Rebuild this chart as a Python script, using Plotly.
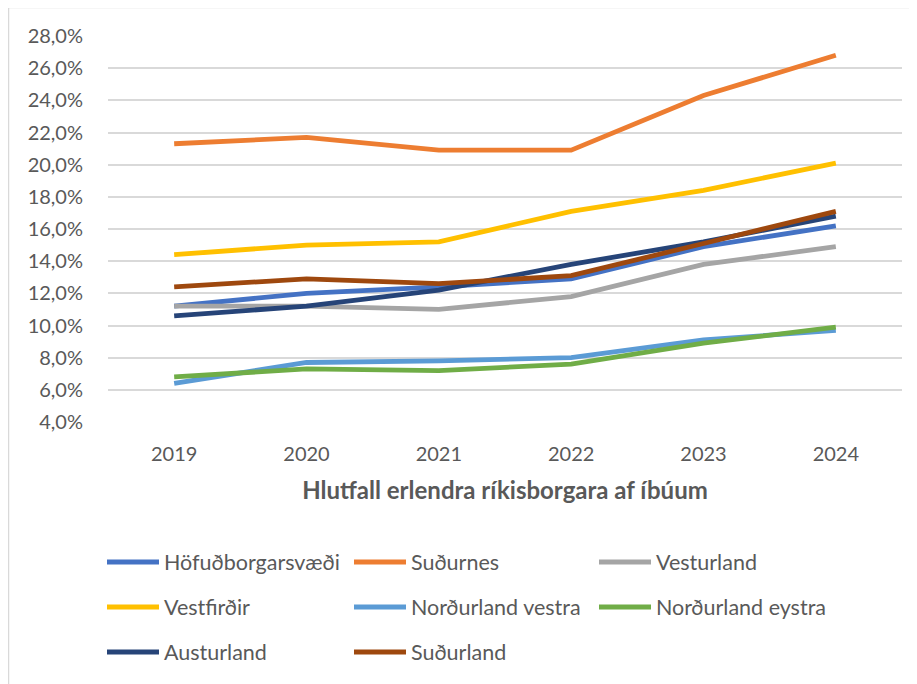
import plotly.graph_objects as go

years = ["2019", "2020", "2021", "2022", "2023", "2024"]

hofudborgarsvaedi = [11.2, 12.0, 12.4, 12.9, 14.9, 16.2]
sudurnes = [21.3, 21.7, 20.9, 20.9, 24.3, 26.8]
vesturland = [11.2, 11.2, 11.0, 11.8, 13.8, 14.9]
vestfirdir = [14.4, 15.0, 15.2, 17.1, 18.4, 20.1]
nordurland_vestra = [6.4, 7.7, 7.8, 8.0, 9.1, 9.7]
nordurland_eystra = [6.8, 7.3, 7.2, 7.6, 8.9, 9.9]
austurland = [10.6, 11.2, 12.2, 13.8, 15.2, 16.8]
sudurland = [12.4, 12.9, 12.6, 13.1, 15.1, 17.1]

names = ["Höfuðborgarsvæði", "Suðurnes", "Vesturland", "Vestfirðir",
         "Norðurland vestra", "Norðurland eystra", "Austurland", "Suðurland"]
values = [hofudborgarsvaedi, sudurnes, vesturland, vestfirdir,
          nordurland_vestra, nordurland_eystra, austurland, sudurland]
colors = ["#4472C4", "#ED7D31", "#A5A5A5", "#FFC000",
          "#5B9BD5", "#70AD47", "#264478", "#9E480E"]

FONT = "Lato, 'Open Sans', sans-serif"
TXT = "#595959"

# page is offset by the browser's 8px body margin
OFF = 8
W, H = 917 - OFF, 684 - OFF
L, R, T, B = 100, 15, 28, 262
pw = W - L - R
ph = H - T - B


def paper_x(page_x):
    return (page_x - OFF - L) / pw


def paper_y(page_y):
    return (H - B - (page_y - OFF)) / ph


# legend grid: 3 columns x 3 rows (page pixel positions of line start / row centre)
col_x = [108, 355, 600]
row_y = [562, 607, 652]

fig = go.Figure()
layout_legends = {}
for i, (name, vals, color) in enumerate(zip(names, values, colors)):
    key = "legend" if i == 0 else f"legend{i + 1}"
    fig.add_trace(go.Scatter(
        x=years, y=vals, name=name, mode="lines",
        line=dict(color=color, width=4.8),
        legend=key,
    ))
    r, c = divmod(i, 3)
    layout_legends[key] = dict(
        x=paper_x(col_x[c] - 6), y=paper_y(row_y[r]),
        xanchor="left", yanchor="middle",
        orientation="v", itemwidth=52,
        font=dict(family=FONT, size=21.5, color=TXT),
        bgcolor="rgba(0,0,0,0)",
    )

fig.update_layout(
    width=W, height=H,
    margin=dict(l=L, r=R, t=T, b=B),
    paper_bgcolor="white", plot_bgcolor="white",
    separators=", ",
    font=dict(family=FONT, size=20, color=TXT),
    xaxis=dict(
        type="category", range=[-0.5, 5.5],
        showgrid=False, zeroline=False, showline=False,
        ticks="outside", ticklen=14, tickcolor="rgba(0,0,0,0)",
        tickfont=dict(family=FONT, size=20, color=TXT),
        title=dict(text="<b>Hlutfall erlendra ríkisborgara af íbúum</b>",
                   font=dict(family=FONT, size=24, color=TXT), standoff=18),
    ),
    yaxis=dict(
        range=[4, 28], tick0=4, dtick=2,
        showgrid=True, gridcolor="#D9D9D9", gridwidth=1.5,
        zeroline=False, showline=False,
        tickformat=".1f", ticksuffix="%",
        ticks="outside", ticklen=20, tickcolor="rgba(0,0,0,0)",
        tickfont=dict(family=FONT, size=20, color=TXT),
    ),
    showlegend=True,
    **layout_legends,
)

# outer chart border (cropped on right and bottom like the reference)
fig.add_shape(
    type="rect", xref="paper", yref="paper",
    x0=paper_x(8.5), x1=paper_x(930),
    y0=paper_y(700), y1=paper_y(7.5),
    line=dict(color="#D9D9D9", width=1.5), fillcolor="rgba(0,0,0,0)",
    layer="below",
)

fig.write_html("out.html")
